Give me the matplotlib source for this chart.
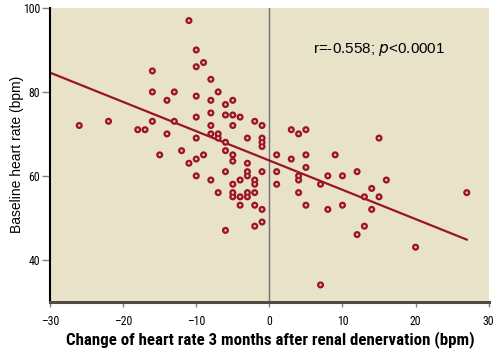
import numpy as np
import matplotlib
matplotlib.use('Agg')
import matplotlib.pyplot as plt

# change of heart rate 3 months after RDN (x) vs baseline heart rate (y)
hr_change = [-26, -22, -18, -17, -16, -16, -16, -15, -14, -14, -13, -13, -12,
             -11, -11, -10, -10, -10, -10, -10, -10, -10, -9, -9,
             -8, -8, -8, -8, -8, -8, -7, -7, -7, -7,
             -6, -6, -6, -6, -6, -6, -5, -5, -5, -5, -5, -5, -5, -5,
             -4, -4, -4, -4, -3, -3, -3, -3, -3, -3,
             -2, -2, -2, -2, -2, -2, -1, -1, -1, -1, -1, -1, -1,
             1, 1, 1, 3, 3, 4, 4, 4, 4, 5, 5, 5, 5,
             7, 7, 8, 8, 9, 10, 10, 12, 12, 13, 13, 14, 14, 15, 15, 16, 20, 27]
baseline_hr = [72, 73, 71, 71, 85, 80, 73, 65, 78, 70, 80, 73, 66,
               97, 63, 90, 86, 79, 74, 69, 64, 60, 87, 65,
               83, 78, 75, 72, 70, 59, 80, 70, 69, 56,
               77, 74.5, 68, 66, 61, 47, 78, 74.5, 72, 65, 63.5, 58, 56, 55,
               74, 59, 55, 53, 69, 63, 61, 60, 56, 55,
               73, 59, 58, 56, 53, 48, 72, 69, 68, 67, 61, 52, 49,
               65, 61, 58, 71, 64, 70, 60, 59, 56, 71, 65, 62, 53,
               58, 34, 60, 52, 65, 60, 53, 61, 46, 55, 48, 57, 52, 69, 55, 59, 43, 56]

# regression line as drawn in the figure
fit_x = [-30, 27]
fit_y = [84.6, 44.8]

x_ticks = [-30, -20, -10, 0, 10, 20, 30]
x_ticklabels = ['\u201330', '\u201320', '\u201310', '0', '10', '20', '30']
y_ticks = [40, 60, 80, 100]

red = '#9b1426'
bg = '#e8e3c8'
narrow = ['Roboto Condensed', 'Archivo Narrow', 'DejaVu Sans']

fig = plt.figure(figsize=(5.02, 3.54), dpi=100)
ax = fig.add_axes([0.0996, 0.1477, 0.8739, 0.8297])
ax.set_facecolor(bg)

ax.axvline(0, color='#707070', lw=1.0, zorder=1)
ax.plot(fit_x, fit_y, color=red, lw=1.6, zorder=2)
ax.scatter(hr_change, baseline_hr, s=26, color=red, edgecolors='none', zorder=3)
ax.scatter(hr_change, baseline_hr, s=3.2, color='#eec4c4', edgecolors='none', zorder=4)

ax.set_xlim(-30, 30)
ax.set_ylim(30, 100)
ax.set_xticks(x_ticks)
ax.set_xticklabels(x_ticklabels)
ax.set_yticks(y_ticks)

for s in ['top', 'right']:
    ax.spines[s].set_visible(False)
ax.spines['left'].set_color('black')
ax.spines['left'].set_linewidth(1.5)
ax.spines['bottom'].set_color('#4f4c44')
ax.spines['bottom'].set_linewidth(2.2)
ax.tick_params(direction='out', width=1, color='#808080', labelsize=8.5)
ax.tick_params(axis='x', length=3.6, pad=6)
ax.tick_params(axis='y', length=6, pad=1)
for lab in ax.get_xticklabels() + ax.get_yticklabels():
    lab.set_family(narrow)

ax.set_xlabel('Change of heart rate 3 months after renal denervation (bpm)',
              family=narrow, fontweight='bold', fontsize=12.2, va='center')
ax.xaxis.set_label_coords(0.502, -0.130)
ax.set_ylabel('Baseline heart rate (bpm)', family='Liberation Sans', fontsize=10,
              va='center')
ax.yaxis.set_label_coords(-0.075, 0.5)

ax.text(6.0, 90, 'r=-0.558; $\\mathit{p}$<0.0001', family='Liberation Sans',
        fontsize=11, va='center', ha='left')

fig.savefig('out.png', dpi=100)
